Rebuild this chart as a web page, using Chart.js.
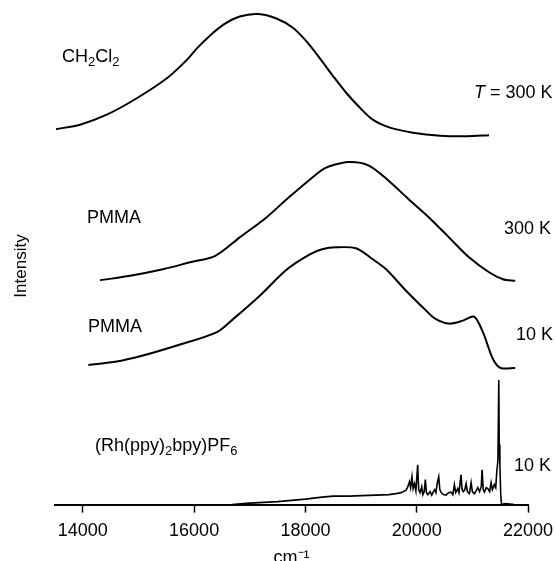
<!DOCTYPE html>
<html>
<head>
<meta charset="utf-8">
<script src="https://cdn.jsdelivr.net/npm/chart.js@4/dist/chart.umd.min.js"></script>
<style>
  html, body { margin: 0; padding: 0; background: #fff; }
  #wrap { width: 556px; height: 561px; }
</style>
</head>
<body>
<div id="wrap"><canvas id="spectra"></canvas></div>
<script>
// Emission spectra of (Rh(ppy)2bpy)PF6, traces stacked on one intensity axis.
const xTicks = [14000, 16000, 18000, 20000, 22000];

const ch2cl2Wavenumber = [13520, 13950, 14430, 14970, 15510, 15870, 16050, 16230, 16520, 16820, 17150, 17480, 17780, 18020, 18260, 18500, 18740, 18980, 19210, 19520, 19930, 20420, 20900, 21300];
const ch2cl2Intensity = [75.3, 76.2, 78.2, 81.5, 85.5, 89.2, 91.5, 93.5, 96.2, 97.9, 98.4, 97.5, 95.6, 92.9, 89.5, 85.9, 82.5, 79.6, 77.2, 75.6, 74.6, 74.0, 73.9, 74.1];

const pmma300Wavenumber = [14310, 14850, 15440, 15930, 16380, 16820, 17300, 17660, 18270, 18420, 18780, 19140, 19500, 19860, 20220, 20580, 20940, 21300, 21550, 21770];
const pmma300Intensity = [45.0, 45.9, 47.2, 48.6, 49.9, 53.6, 57.6, 61.2, 66.9, 67.8, 68.7, 68.0, 64.9, 61.2, 57.6, 53.6, 49.6, 46.6, 45.2, 44.9];

const pmma10Wavenumber = [14100, 14610, 15080, 15690, 16410, 16700, 17180, 17670, 18080, 18300,
  18550, 18910, 19210, 19450, 19800, 20170, 20330, 20580, 20830, 21030,
  21190, 21370, 21510, 21770];
const pmma10Intensity = [28.0, 28.7, 29.9, 31.9, 34.6, 37.2, 41.9, 47.2, 50.2, 51.2,
  51.6, 51.4, 49.2, 47.2, 43.0, 38.9, 37.3, 36.3, 36.9, 37.7,
  34.6, 29.2, 27.4, 27.4];

const crystalWavenumber = [16680, 17000, 17500, 18000, 18300, 18500, 18800, 19000, 19270, 19500,
  19630, 19720, 19810, 19840, 19870, 19890, 19915, 19935, 19960, 19985,
  20018, 20035, 20060, 20090, 20110, 20135, 20155, 20175, 20200, 20240,
  20270, 20300, 20324, 20345, 20370, 20396, 20415, 20440, 20480, 20527,
  20570, 20617, 20650, 20677, 20700, 20738, 20760, 20797, 20815, 20839,
  20865, 20888, 20910, 20947, 20978, 21000, 21037, 21070, 21098, 21130,
  21160, 21175, 21195, 21217, 21250, 21278, 21310, 21337, 21360, 21396,
  21420, 21439, 21460, 21475, 21483, 21495, 21510, 21525, 21590, 21680,
  21750];
const crystalIntensity = [0, 0.3, 0.6, 1.1, 1.5, 1.7, 1.7, 1.8, 1.9, 2.0,
  2.2, 2.4, 2.9, 3.6, 4.6, 3.4, 5.6, 3.2, 4.2, 2.8,
  8.0, 3.0, 2.4, 3.6, 2.0, 2.6, 5.0, 2.4, 2.0, 2.6,
  1.9, 2.6, 3.0, 2.4, 4.4, 5.6, 3.0, 2.4, 2.0, 1.9,
  2.4, 2.5, 2.0, 4.0, 2.4, 3.2, 2.4, 6.0, 3.0, 2.6,
  3.0, 4.2, 2.6, 2.2, 4.4, 2.6, 2.2, 2.8, 3.4, 2.6,
  3.6, 7.0, 3.0, 2.5, 3.4, 3.2, 2.6, 4.4, 3.0, 4.0,
  3.4, 6.6, 9.0, 25.0, 12.0, 8.0, 2.0, 0, 0.2, 0.1,
  0];

const FONT = '"Liberation Sans", Arial, sans-serif';

// label anchors in (cm-1, intensity); each part is [text, style]
const traceLabels = [
  { at: [13626, 89.8], parts: [['CH'], ['2', 'sub'], ['Cl'], ['2', 'sub']] },
  { at: [21029, 82.6], parts: [['T', 'italic'], [' = 300 K']] },
  { at: [14075, 57.4], parts: [['PMMA']] },
  { at: [21569, 55.2], parts: [['300 K']] },
  { at: [14093, 35.6], parts: [['PMMA']] },
  { at: [21785, 34.0], parts: [['10 K']] },
  { at: [14219, 11.8], parts: [['(Rh(ppy)'], ['2', 'sub'], ['bpy)PF'], ['6', 'sub']] },
  { at: [21749, 7.8], parts: [['10 K']] },
];

const points = (xs, ys) => xs.map((x, i) => ({ x, y: ys[i] }));

const trace = (xs, ys, extra = {}) => ({
  data: points(xs, ys),
  showLine: true,
  borderColor: '#000',
  borderWidth: 2,
  pointRadius: 0,
  tension: 0.3,
  ...extra,
});

const traceLabelsPlugin = {
  id: 'traceLabels',
  afterDatasetsDraw(chart) {
    const { ctx, scales: { x, y } } = chart;
    ctx.save();
    ctx.fillStyle = '#000';
    ctx.textBaseline = 'middle';
    traceLabels.forEach(({ at, parts }) => {
      let px = x.getPixelForValue(at[0]);
      const py = y.getPixelForValue(at[1]);
      parts.forEach(([text, style]) => {
        if (style === 'sub') {
          ctx.font = `13px ${FONT}`;
          ctx.fillText(text, px, py + 6);
        } else {
          ctx.font = `${style === 'italic' ? 'italic ' : ''}18px ${FONT}`;
          ctx.fillText(text, px, py);
        }
        px += ctx.measureText(text).width;
      });
    });

    ctx.translate(21, 266);
    ctx.rotate(-Math.PI / 2);
    ctx.textAlign = 'center';
    ctx.font = `17px ${FONT}`;
    ctx.fillText('Intensity', 0, 0);
    ctx.restore();
  },
};

new Chart(document.getElementById('spectra'), {
  type: 'scatter',
  data: {
    datasets: [
      trace(ch2cl2Wavenumber, ch2cl2Intensity),
      trace(pmma300Wavenumber, pmma300Intensity),
      trace(pmma10Wavenumber, pmma10Intensity),
      trace(crystalWavenumber, crystalIntensity, { borderWidth: 1.6, tension: 0 }),
    ],
  },
  options: {
    responsive: true,
    maintainAspectRatio: false,
    animation: false,
    events: [],
    layout: {
      padding: { left: 55, right: 28, top: 6, bottom: -8 },
    },
    plugins: {
      legend: { display: false },
      tooltip: { enabled: false },
    },
    scales: {
      x: {
        type: 'linear',
        position: 'bottom',
        min: 13500,
        max: 22000,
        afterBuildTicks(axis) {
          axis.ticks = xTicks.map((value) => ({ value }));
        },
        // the 22000 label may run into the right margin, as printed
        afterFit(axis) {
          axis.paddingLeft = 0;
          axis.paddingRight = 0;
        },
        border: {
          display: true,
          color: '#000',
          width: 2,
        },
        grid: {
          drawOnChartArea: false,
          drawTicks: true,
          tickLength: 8,
          tickColor: '#000',
          tickWidth: 1.5,
        },
        ticks: {
          color: '#000',
          font: { family: FONT, size: 18, lineHeight: 0.8 },
          padding: 11,
          maxRotation: 0,
          autoSkip: false,
          callback: (value) => String(value),
        },
        title: {
          display: true,
          text: 'cm⁻¹',
          color: '#000',
          font: { family: FONT, size: 18, lineHeight: 1 },
          padding: { top: 0, bottom: 2 },
        },
      },
      y: {
        display: false,
        min: 0,
        max: 100,
      },
    },
  },
  plugins: [traceLabelsPlugin],
});
</script>
</body>
</html>
